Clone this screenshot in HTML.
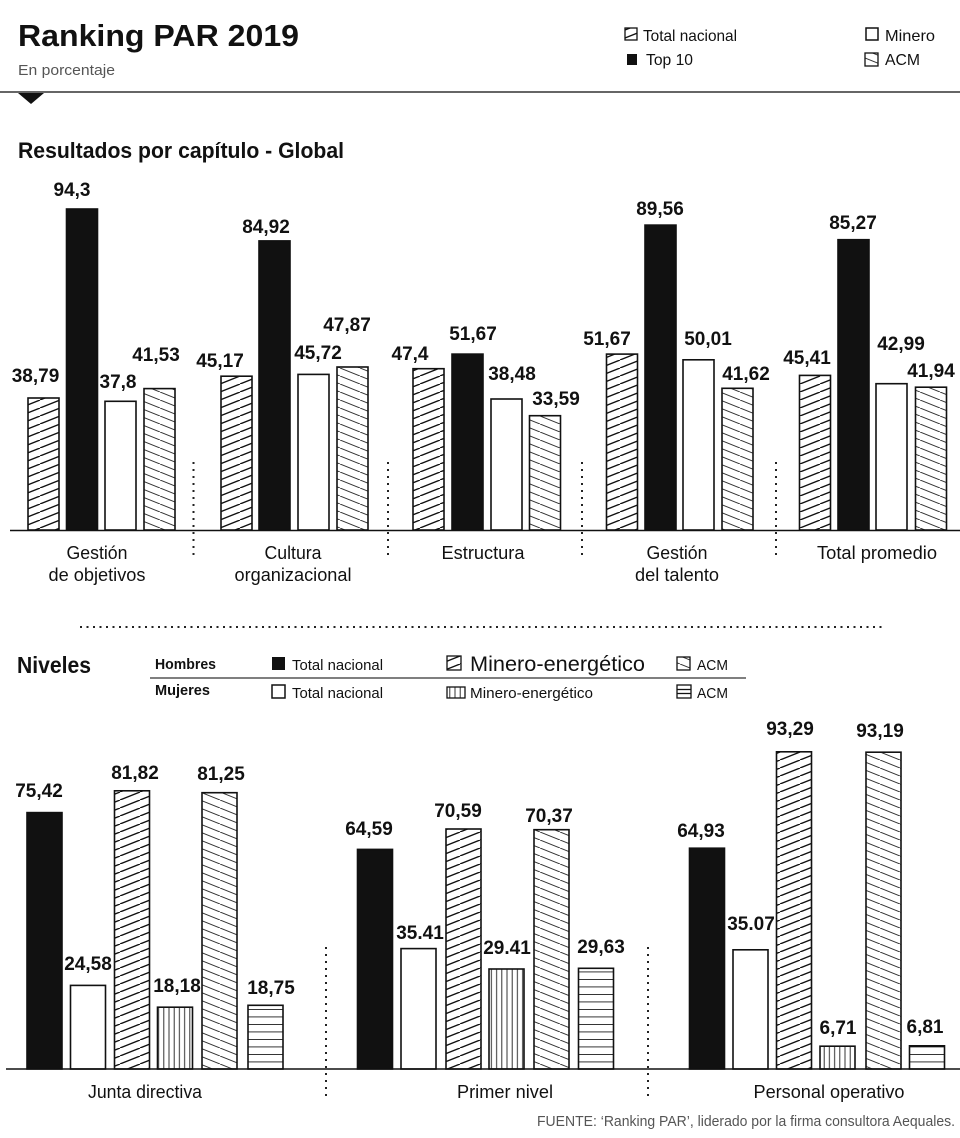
<!DOCTYPE html>
<html>
<head>
<meta charset="utf-8">
<style>
html,body{margin:0;padding:0;background:#fff;}
svg{display:block;}
text{font-family:"Liberation Sans",Arial,sans-serif;fill:#111;}
.v{font-size:19px;font-weight:bold;text-anchor:middle;}
.c{font-size:18.5px;text-anchor:middle;}
</style>
</head>
<body>
<svg width="960" height="1138" viewBox="0 0 960 1138" xmlns="http://www.w3.org/2000/svg">
<defs>
  <pattern id="fw" patternUnits="userSpaceOnUse" width="20" height="8">
    <path d="M-20,8 L0,0 M0,8 L20,0 M20,8 L40,0" stroke="#111" stroke-width="1.35" fill="none"/>
  </pattern>
  <pattern id="bw" patternUnits="userSpaceOnUse" width="20" height="8">
    <path d="M-20,0 L0,8 M0,0 L20,8 M20,0 L40,8" stroke="#333" stroke-width="1" fill="none"/>
  </pattern>
  <pattern id="vs" patternUnits="userSpaceOnUse" width="5.2" height="10">
    <line x1="2.6" y1="0" x2="2.6" y2="10" stroke="#333" stroke-width="1"/>
  </pattern>
  <pattern id="hs" patternUnits="userSpaceOnUse" width="10" height="7.5" y="1069">
    <line x1="0" y1="0" x2="10" y2="0" stroke="#111" stroke-width="1.7"/>
  </pattern>
</defs>

<!-- Header -->
<text x="18" y="46" font-size="31" font-weight="bold" textLength="281" lengthAdjust="spacingAndGlyphs">Ranking PAR 2019</text>
<text x="18" y="75" font-size="15" style="fill:#555" textLength="97" lengthAdjust="spacingAndGlyphs">En porcentaje</text>

<rect x="625" y="28" width="12" height="12" fill="url(#fw)" stroke="#111" stroke-width="1.3"/>
<text x="643" y="41" font-size="16" textLength="94" lengthAdjust="spacingAndGlyphs">Total nacional</text>
<rect x="627" y="54" width="10" height="11" fill="#111"/>
<text x="646" y="65" font-size="16" textLength="47" lengthAdjust="spacingAndGlyphs">Top 10</text>
<rect x="866" y="28" width="12" height="12" fill="#fff" stroke="#111" stroke-width="1.5"/>
<text x="885" y="41" font-size="16" textLength="50" lengthAdjust="spacingAndGlyphs">Minero</text>
<rect x="865" y="53" width="13" height="13" fill="url(#bw)" stroke="#111" stroke-width="1.3"/>
<text x="885" y="65" font-size="16" textLength="35" lengthAdjust="spacingAndGlyphs">ACM</text>

<line x1="0" y1="92" x2="960" y2="92" stroke="#666" stroke-width="2"/>
<polygon points="18,93 44,93 31,104" fill="#111"/>

<text x="18" y="158" font-size="22" font-weight="bold" textLength="326" lengthAdjust="spacingAndGlyphs">Resultados por capítulo - Global</text>

<!-- Top chart bars -->
<g stroke="#111" stroke-width="1.6">
  <rect x="28" y="398" width="31" height="132" fill="url(#fw)"/>
  <rect x="66.5" y="209" width="31" height="321" fill="#111"/>
  <rect x="105" y="401.3" width="31" height="128.7" fill="#fff"/>
  <rect x="144" y="388.6" width="31" height="141.4" fill="url(#bw)"/>
  <rect x="221" y="376.2" width="31" height="153.8" fill="url(#fw)"/>
  <rect x="259" y="240.9" width="31" height="289.1" fill="#111"/>
  <rect x="298" y="374.4" width="31" height="155.6" fill="#fff"/>
  <rect x="337" y="367" width="31" height="163" fill="url(#bw)"/>
  <rect x="413" y="368.7" width="31" height="161.3" fill="url(#fw)"/>
  <rect x="452" y="354.1" width="31" height="175.9" fill="#111"/>
  <rect x="491" y="399" width="31" height="131" fill="#fff"/>
  <rect x="529.5" y="415.7" width="31" height="114.3" fill="url(#bw)"/>
  <rect x="606.5" y="354.1" width="31" height="175.9" fill="url(#fw)"/>
  <rect x="645" y="225.1" width="31" height="304.9" fill="#111"/>
  <rect x="683" y="359.8" width="31" height="170.2" fill="#fff"/>
  <rect x="722" y="388.3" width="31" height="141.7" fill="url(#bw)"/>
  <rect x="799.5" y="375.4" width="31" height="154.6" fill="url(#fw)"/>
  <rect x="838" y="239.7" width="31" height="290.3" fill="#111"/>
  <rect x="876" y="383.7" width="31" height="146.3" fill="#fff"/>
  <rect x="915.5" y="387.2" width="31" height="142.8" fill="url(#bw)"/>
</g>
<line x1="10" y1="530.5" x2="960" y2="530.5" stroke="#111" stroke-width="1.6"/>

<!-- Top value labels -->
<g>
  <text class="v" x="35.5" y="382">38,79</text>
  <text class="v" x="72" y="196">94,3</text>
  <text class="v" x="118" y="388">37,8</text>
  <text class="v" x="156" y="361">41,53</text>
  <text class="v" x="220" y="367">45,17</text>
  <text class="v" x="266" y="233">84,92</text>
  <text class="v" x="318" y="359">45,72</text>
  <text class="v" x="347" y="331">47,87</text>
  <text class="v" x="410" y="360">47,4</text>
  <text class="v" x="473" y="340">51,67</text>
  <text class="v" x="512" y="380">38,48</text>
  <text class="v" x="556" y="405">33,59</text>
  <text class="v" x="607" y="345">51,67</text>
  <text class="v" x="660" y="215">89,56</text>
  <text class="v" x="708" y="345">50,01</text>
  <text class="v" x="746" y="380">41,62</text>
  <text class="v" x="807" y="364">45,41</text>
  <text class="v" x="853" y="229">85,27</text>
  <text class="v" x="901" y="350">42,99</text>
  <text class="v" x="931" y="377">41,94</text>
</g>

<!-- Top separators -->
<g stroke="#222" stroke-width="2" stroke-dasharray="2 5">
  <line x1="193.5" y1="462" x2="193.5" y2="557"/>
  <line x1="388" y1="462" x2="388" y2="557"/>
  <line x1="582" y1="462" x2="582" y2="557"/>
  <line x1="776" y1="462" x2="776" y2="557"/>
</g>

<!-- Top categories -->
<text class="c" x="97" y="559" textLength="61" lengthAdjust="spacingAndGlyphs">Gestión</text>
<text class="c" x="97" y="581" textLength="97" lengthAdjust="spacingAndGlyphs">de objetivos</text>
<text class="c" x="293" y="559" textLength="57" lengthAdjust="spacingAndGlyphs">Cultura</text>
<text class="c" x="293" y="581" textLength="117" lengthAdjust="spacingAndGlyphs">organizacional</text>
<text class="c" x="483" y="559" textLength="83" lengthAdjust="spacingAndGlyphs">Estructura</text>
<text class="c" x="677" y="559" textLength="61" lengthAdjust="spacingAndGlyphs">Gestión</text>
<text class="c" x="677" y="581" textLength="84" lengthAdjust="spacingAndGlyphs">del talento</text>
<text class="c" x="877" y="559" textLength="120" lengthAdjust="spacingAndGlyphs">Total promedio</text>

<!-- Horizontal dotted divider -->
<line x1="80" y1="627" x2="882" y2="627" stroke="#222" stroke-width="2" stroke-dasharray="2 4.5"/>

<!-- Bottom legend -->
<text x="17" y="673" font-size="23" font-weight="bold" textLength="74" lengthAdjust="spacingAndGlyphs">Niveles</text>
<text x="155" y="669" font-size="14.5" font-weight="bold" textLength="61" lengthAdjust="spacingAndGlyphs">Hombres</text>
<text x="155" y="695" font-size="14.5" font-weight="bold" textLength="55" lengthAdjust="spacingAndGlyphs">Mujeres</text>
<line x1="150" y1="678" x2="746" y2="678" stroke="#555" stroke-width="1.5"/>

<rect x="272" y="657" width="13" height="13" fill="#111"/>
<text x="292" y="670" font-size="15" textLength="91" lengthAdjust="spacingAndGlyphs">Total nacional</text>
<rect x="447" y="656" width="14" height="14" fill="url(#fw)" stroke="#111" stroke-width="1.3"/>
<text x="470" y="671" font-size="21" textLength="175" lengthAdjust="spacingAndGlyphs">Minero-energético</text>
<rect x="677" y="657" width="13" height="13" fill="url(#bw)" stroke="#111" stroke-width="1.3"/>
<text x="697" y="670" font-size="15" textLength="31" lengthAdjust="spacingAndGlyphs">ACM</text>

<rect x="272" y="685" width="13" height="13" fill="#fff" stroke="#111" stroke-width="1.5"/>
<text x="292" y="698" font-size="15" textLength="91" lengthAdjust="spacingAndGlyphs">Total nacional</text>
<rect x="447" y="687" width="18" height="11" fill="url(#vs)" stroke="#111" stroke-width="1.3"/>
<text x="470" y="698" font-size="15" textLength="123" lengthAdjust="spacingAndGlyphs">Minero-energético</text>
<rect x="677" y="685" width="14" height="13" fill="#fff" stroke="#111" stroke-width="1.3"/>
<line x1="677" y1="689.5" x2="691" y2="689.5" stroke="#111" stroke-width="1.3"/>
<line x1="677" y1="693.5" x2="691" y2="693.5" stroke="#111" stroke-width="1.3"/>
<text x="697" y="698" font-size="15" textLength="31" lengthAdjust="spacingAndGlyphs">ACM</text>

<!-- Bottom bars -->
<g stroke="#111" stroke-width="1.6">
  <rect x="27" y="812.6" width="35" height="256.4" fill="#111"/>
  <rect x="70.5" y="985.4" width="35" height="83.6" fill="#fff"/>
  <rect x="114.5" y="790.8" width="35" height="278.2" fill="url(#fw)"/>
  <rect x="157.5" y="1007.2" width="35" height="61.8" fill="url(#vs)"/>
  <rect x="202" y="792.7" width="35" height="276.3" fill="url(#bw)"/>
  <rect x="248" y="1005.3" width="35" height="63.7" fill="url(#hs)"/>
  <rect x="357.5" y="849.4" width="35" height="219.6" fill="#111"/>
  <rect x="401" y="948.6" width="35" height="120.4" fill="#fff"/>
  <rect x="446" y="829" width="35" height="240" fill="url(#fw)"/>
  <rect x="489" y="969" width="35" height="100" fill="url(#vs)"/>
  <rect x="534" y="829.7" width="35" height="239.3" fill="url(#bw)"/>
  <rect x="578.5" y="968.3" width="35" height="100.7" fill="url(#hs)"/>
  <rect x="689.5" y="848.2" width="35" height="220.8" fill="#111"/>
  <rect x="733" y="949.8" width="35" height="119.2" fill="#fff"/>
  <rect x="776.5" y="751.8" width="35" height="317.2" fill="url(#fw)"/>
  <rect x="820" y="1046.2" width="35" height="22.8" fill="url(#vs)"/>
  <rect x="866" y="752.2" width="35" height="316.8" fill="url(#bw)"/>
  <rect x="909.5" y="1045.8" width="35" height="23.2" fill="url(#hs)"/>
</g>
<line x1="6" y1="1069" x2="960" y2="1069" stroke="#111" stroke-width="1.6"/>

<!-- Bottom value labels -->
<g>
  <text class="v" x="39" y="797">75,42</text>
  <text class="v" x="88" y="970">24,58</text>
  <text class="v" x="135" y="779">81,82</text>
  <text class="v" x="177" y="992">18,18</text>
  <text class="v" x="221" y="780">81,25</text>
  <text class="v" x="271" y="994">18,75</text>

  <text class="v" x="369" y="835">64,59</text>
  <text class="v" x="420" y="939">35.41</text>
  <text class="v" x="458" y="817">70,59</text>
  <text class="v" x="507" y="954">29.41</text>
  <text class="v" x="549" y="822">70,37</text>
  <text class="v" x="601" y="953">29,63</text>

  <text class="v" x="701" y="837">64,93</text>
  <text class="v" x="751" y="930">35.07</text>
  <text class="v" x="790" y="735">93,29</text>
  <text class="v" x="838" y="1034">6,71</text>
  <text class="v" x="880" y="737">93,19</text>
  <text class="v" x="925" y="1033">6,81</text>
</g>

<!-- Bottom separators -->
<g stroke="#222" stroke-width="2" stroke-dasharray="2 5">
  <line x1="326" y1="947" x2="326" y2="1097"/>
  <line x1="648" y1="947" x2="648" y2="1097"/>
</g>

<!-- Bottom categories -->
<text class="c" x="145" y="1098" textLength="114" lengthAdjust="spacingAndGlyphs">Junta directiva</text>
<text class="c" x="505" y="1098" textLength="96" lengthAdjust="spacingAndGlyphs">Primer nivel</text>
<text class="c" x="829" y="1098" textLength="151" lengthAdjust="spacingAndGlyphs">Personal operativo</text>

<!-- Footer -->
<text x="955" y="1126" font-size="15" text-anchor="end" style="fill:#555" textLength="418" lengthAdjust="spacingAndGlyphs">FUENTE: ‘Ranking PAR’, liderado por la firma consultora Aequales.</text>
</svg>
</body>
</html>
